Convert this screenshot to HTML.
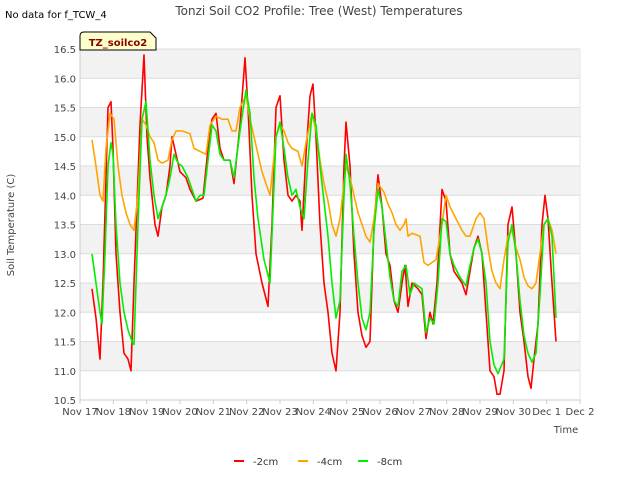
<!DOCTYPE html>
<html><head><meta charset="utf-8"><style>
body{margin:0;background:#fff;font-family:"DejaVu Sans",sans-serif;}
svg text{font-family:"DejaVu Sans","Liberation Sans",sans-serif;}
</style></head><body>
<svg id="c" width="640" height="480" xmlns="http://www.w3.org/2000/svg">
<rect width="640" height="480" fill="#fff"/>
<text x="5" y="18" font-size="10" fill="#000">No data for f_TCW_4</text>
<text x="319" y="15" font-size="12" fill="#444" text-anchor="middle">Tonzi Soil CO2 Profile: Tree (West) Temperatures</text>
<g id="bands"></g><g id="grid"></g><g id="series"></g><g id="axes"></g>
<g>
<path d="M80,50 L80,36 Q80,32 84,32 L150,32 L156,38 L156,50 Z" fill="#ffffcc" stroke="#000" stroke-width="1"/>
<text x="118" y="46" font-size="10" font-weight="bold" fill="#8b0000" text-anchor="middle">TZ_soilco2</text>
</g>
<text x="14" y="225" font-size="10" fill="#444" text-anchor="middle" transform="rotate(-90 14 225)">Soil Temperature (C)</text>
<text x="566" y="433" font-size="10" fill="#444" text-anchor="middle">Time</text>
<g id="legend"></g>
</svg>
<script>
const xTickLabels=["Nov 17","Nov 18","Nov 19","Nov 20","Nov 21","Nov 22","Nov 23","Nov 24","Nov 25","Nov 26","Nov 27","Nov 28","Nov 29","Nov 30","Dec 1","Dec 2"];
const yTicks=[10.5,11.0,11.5,12.0,12.5,13.0,13.5,14.0,14.5,15.0,15.5,16.0,16.5];
const seriesNames=["-2cm","-4cm","-8cm"];
const seriesColors=["#ff0000","#ffa500","#00ee00"];
const t2=[0.36,0.48,0.6,0.69,0.84,0.93,0.99,1.08,1.2,1.32,1.44,1.53,1.62,1.8,1.92,2.01,2.1,2.25,2.34,2.46,2.58,2.7,2.76,2.88,3.0,3.18,3.3,3.48,3.69,3.84,3.96,4.08,4.2,4.32,4.5,4.62,4.8,4.95,5.04,5.16,5.28,5.46,5.64,5.76,5.88,6.0,6.12,6.24,6.36,6.48,6.6,6.66,6.78,6.9,6.99,7.08,7.2,7.32,7.44,7.56,7.68,7.8,7.92,7.98,8.1,8.22,8.34,8.46,8.58,8.7,8.82,8.94,9.06,9.18,9.3,9.42,9.54,9.66,9.75,9.84,9.96,10.14,10.26,10.38,10.5,10.59,10.71,10.86,10.98,11.1,11.22,11.34,11.46,11.58,11.7,11.82,11.94,12.06,12.18,12.3,12.42,12.51,12.6,12.72,12.84,12.96,13.08,13.2,13.32,13.44,13.53,13.62,13.74,13.86,13.95,14.04,14.16,14.28];
const v2=[12.4,11.9,11.2,12.5,15.5,15.6,14.8,13.0,12.0,11.3,11.2,11.0,12.5,15.2,16.4,15.0,14.3,13.5,13.3,13.8,14.0,14.5,15.0,14.7,14.4,14.3,14.1,13.9,13.95,14.8,15.3,15.4,14.8,14.6,14.6,14.2,15.2,16.35,15.5,14.0,13.0,12.5,12.1,13.5,15.5,15.7,14.6,14.0,13.9,14.0,13.9,13.4,14.7,15.7,15.9,15.0,13.5,12.5,12.0,11.3,11.0,12.0,14.5,15.25,14.5,13.0,12.0,11.6,11.4,11.5,13.5,14.35,13.8,13.0,12.8,12.2,12.0,12.5,12.8,12.1,12.5,12.4,12.3,11.55,12.0,11.8,12.5,14.1,13.9,13.0,12.7,12.6,12.5,12.3,12.7,13.1,13.3,13.0,12.0,11.0,10.9,10.6,10.6,11.0,13.5,13.8,13.0,12.0,11.5,10.9,10.7,11.2,11.8,13.5,14.0,13.6,12.5,11.5];
const t4=[0.36,0.48,0.6,0.69,0.78,0.9,1.02,1.14,1.26,1.38,1.5,1.62,1.74,1.86,1.98,2.1,2.22,2.34,2.46,2.64,2.76,2.88,3.06,3.3,3.42,3.6,3.78,3.9,4.08,4.26,4.44,4.56,4.68,4.8,4.98,5.1,5.22,5.34,5.46,5.58,5.7,5.88,6.0,6.12,6.24,6.36,6.54,6.66,6.78,6.96,7.08,7.2,7.32,7.44,7.56,7.68,7.8,7.98,8.1,8.22,8.34,8.46,8.58,8.7,8.82,8.94,9.12,9.24,9.36,9.48,9.6,9.72,9.78,9.84,9.96,10.2,10.32,10.44,10.56,10.68,10.74,10.86,10.98,11.1,11.28,11.46,11.58,11.7,11.88,12.0,12.12,12.24,12.36,12.48,12.6,12.72,12.84,12.96,13.08,13.2,13.32,13.44,13.56,13.68,13.8,13.92,14.04,14.16,14.28];
const v4=[14.95,14.5,14.0,13.9,14.8,15.4,15.3,14.5,14.0,13.7,13.5,13.4,14.0,15.3,15.2,15.0,14.9,14.6,14.55,14.6,14.95,15.1,15.1,15.05,14.8,14.75,14.7,15.2,15.35,15.3,15.3,15.1,15.1,15.5,15.7,15.3,15.0,14.7,14.4,14.2,14.0,15.0,15.2,15.1,14.9,14.8,14.75,14.5,14.9,15.4,15.1,14.6,14.2,13.9,13.5,13.3,13.6,14.5,14.3,14.0,13.7,13.5,13.3,13.2,13.6,14.2,14.05,13.85,13.7,13.5,13.4,13.5,13.6,13.3,13.35,13.3,12.85,12.8,12.85,12.9,13.1,13.5,14.0,13.8,13.6,13.4,13.3,13.3,13.6,13.7,13.6,13.1,12.7,12.5,12.4,12.9,13.3,13.4,13.1,12.9,12.6,12.45,12.4,12.5,13.0,13.5,13.6,13.4,13.0];
const t8=[0.36,0.48,0.6,0.66,0.75,0.84,0.93,0.99,1.08,1.2,1.32,1.44,1.56,1.62,1.74,1.86,1.98,2.1,2.22,2.34,2.46,2.58,2.7,2.82,2.94,3.06,3.24,3.48,3.6,3.72,3.84,3.96,4.08,4.2,4.32,4.5,4.62,4.8,4.98,5.1,5.22,5.34,5.52,5.7,5.88,6.0,6.12,6.24,6.36,6.48,6.6,6.72,6.84,6.96,7.08,7.2,7.32,7.44,7.56,7.68,7.8,7.92,7.98,8.1,8.22,8.34,8.46,8.58,8.7,8.82,8.94,9.06,9.18,9.3,9.42,9.54,9.66,9.78,9.9,10.02,10.14,10.26,10.38,10.5,10.62,10.74,10.86,10.98,11.1,11.22,11.4,11.58,11.7,11.82,11.94,12.06,12.18,12.3,12.42,12.54,12.72,12.84,12.96,13.08,13.2,13.32,13.44,13.56,13.68,13.8,13.92,14.04,14.16,14.28];
const v8=[13.0,12.5,12.0,11.8,13.0,14.5,14.9,14.7,13.5,12.5,12.0,11.7,11.5,11.45,13.5,15.3,15.6,14.6,14.0,13.6,13.8,14.0,14.3,14.7,14.55,14.5,14.3,13.9,14.0,14.0,14.6,15.2,15.1,14.7,14.6,14.6,14.3,15.1,15.8,15.4,14.3,13.6,12.9,12.5,15.0,15.25,14.8,14.3,14.0,14.1,13.8,13.6,14.6,15.4,15.2,14.5,13.9,13.3,12.5,11.9,12.2,14.0,14.7,14.2,13.3,12.5,11.9,11.7,12.0,13.4,14.1,13.8,13.2,12.6,12.2,12.1,12.7,12.8,12.3,12.5,12.45,12.4,11.65,11.9,11.8,12.5,13.6,13.55,13.0,12.8,12.6,12.45,12.8,13.1,13.25,13.0,12.5,11.5,11.1,10.95,11.2,13.2,13.5,13.0,12.2,11.6,11.3,11.15,11.3,12.3,13.5,13.6,13.3,11.9];
const NS="http://www.w3.org/2000/svg";
const L=80,R=580,T=49,B=400,yMin=10.5,yMax=16.5,days=15;
const xs=d=>L+(R-L)*d/days;
const ys=v=>B-(B-T)*(v-yMin)/(yMax-yMin);
function mk(tag,attrs,parent){const e=document.createElementNS(NS,tag);for(const k in attrs)e.setAttribute(k,attrs[k]);parent.appendChild(e);return e;}
const bands=document.getElementById('bands'),grid=document.getElementById('grid'),ax=document.getElementById('axes');
for(let i=0;i<yTicks.length-1;i++){
 const lo=yTicks[i],hi=yTicks[i+1];
 const r=mk('rect',{x:L,y:ys(hi),width:R-L,height:ys(lo)-ys(hi),fill:(i%2===1)?'#f2f2f2':'#ffffff'},bands);
 
 
}
yTicks.forEach(v=>{
 const g=mk('line',{x1:L,x2:R,y1:ys(v),y2:ys(v),stroke:'#dcdcdc','stroke-width':1},grid);
 
 
 const t=mk('text',{x:L-4,y:ys(v)+4,'font-size':10,fill:'#444','text-anchor':'end'},ax);
 t.textContent=v.toFixed(1);
 
 
});
mk('line',{x1:L,x2:L,y1:T,y2:B,stroke:'#ccc'},ax);
mk('line',{x1:L,x2:R,y1:B,y2:B,stroke:'#ccc'},ax);
mk('line',{x1:R,x2:R,y1:T,y2:B,stroke:'#e6e6e6'},grid);
xTickLabels.forEach((s,i)=>{
 mk('line',{x1:xs(i),x2:xs(i),y1:B,y2:B+4,stroke:'#ccc'},ax);
 const t=mk('text',{x:xs(i),y:B+15,'font-size':10,fill:'#444','text-anchor':'middle'},ax);
 t.textContent=s;
 
 
});
const sg=document.getElementById('series');
[[t2,v2],[t4,v4],[t8,v8]].forEach(([t,v],k)=>{
 const d=t.map((x,i)=>(i?'L':'M')+xs(x).toFixed(1)+','+ys(v[i]).toFixed(1)).join(' ');
 const p=mk('path',{d:d,fill:'none',stroke:seriesColors[k],'stroke-width':1.6,'stroke-linejoin':'round'},sg);
 
 
});
const lg=document.getElementById('legend');
const lx=[234,298,358];
seriesNames.forEach((n,k)=>{
 const g=mk('g',{},lg);
 
 
 mk('line',{x1:lx[k],x2:lx[k]+10,y1:461,y2:461,stroke:seriesColors[k],'stroke-width':2},g);
 const t=mk('text',{x:lx[k]+19,y:465,'font-size':10,fill:'#333'},g);
 t.textContent=n;
});
</script>
</body></html>
